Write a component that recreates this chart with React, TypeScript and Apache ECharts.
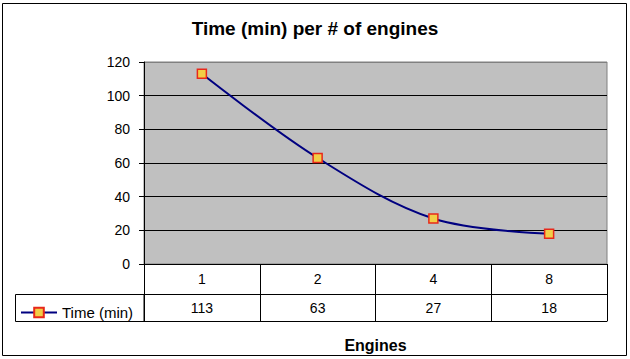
import React, { useEffect, useRef } from "react";
import * as echarts from "echarts";

const categories = ["1", "2", "4", "8"];
const timeValues = [113, 63, 27, 18];
const yMin = 0;
const yMax = 120;
const yStep = 20;
const seriesName = "Time (min)";
const chartTitle = "Time (min) per # of engines";
const xAxisTitle = "Engines";

const FONT = '"Liberation Sans", Arial, sans-serif';

export default function App() {
  const ref = useRef<HTMLDivElement>(null);

  useEffect(() => {
    if (!ref.current) return;
    const chart = echarts.init(ref.current, null, { renderer: "svg" });
    const gridLineCount = (yMax - yMin) / yStep + 1;
    const splitColors = Array.from({ length: gridLineCount }, (_, i) =>
      i === gridLineCount - 1 ? "#808080" : "#000000"
    );
    chart.setOption({
      animation: false,
      backgroundColor: "#ffffff",
      textStyle: { fontFamily: FONT, color: "#000" },
      title: {
        text: chartTitle,
        left: "center",
        top: 14,
        textStyle: { fontFamily: FONT, fontSize: 19, fontWeight: "bold", color: "#000" },
      },
      legend: {
        data: [seriesName],
        left: 20,
        top: 305,
        padding: 0,
        itemWidth: 36,
        itemHeight: 12,
        textStyle: { fontFamily: FONT, fontSize: 15, color: "#000" },
      },
      grid: {
        left: 144,
        right: 23,
        top: 62,
        bottom: 95,
        show: true,
        backgroundColor: "#C0C0C0",
        borderColor: "#808080",
        borderWidth: 1,
      },
      yAxis: {
        type: "value",
        min: yMin,
        max: yMax,
        interval: yStep,
        axisLine: { show: true, lineStyle: { color: "#000", width: 1 } },
        axisTick: { show: true, inside: false, length: 5, lineStyle: { color: "#000" } },
        axisLabel: { margin: 14, fontSize: 14, color: "#000", fontFamily: FONT },
        splitLine: { show: true, lineStyle: { color: splitColors, width: 1 } },
      },
      xAxis: [
        {
          type: "category",
          data: categories,
          position: "bottom",
          boundaryGap: true,
          axisLine: { show: true, lineStyle: { color: "#000", width: 1 } },
          axisTick: { show: true, inside: false, length: 30, alignWithLabel: false, lineStyle: { color: "#000" } },
          axisLabel: { margin: 15, fontSize: 14, color: "#000", verticalAlign: "middle", fontFamily: FONT },
          splitLine: { show: false },
        },
        {
          type: "category",
          data: timeValues.map(String),
          position: "bottom",
          offset: 30,
          boundaryGap: true,
          axisLine: { show: true, lineStyle: { color: "#000", width: 1 } },
          axisTick: { show: true, inside: false, length: 27, alignWithLabel: false, lineStyle: { color: "#000" } },
          axisLabel: { margin: 14, fontSize: 14, color: "#000", verticalAlign: "middle", fontFamily: FONT },
          splitLine: { show: false },
        },
        {
          type: "category",
          data: categories,
          position: "bottom",
          offset: 57,
          boundaryGap: true,
          axisLine: { show: true, lineStyle: { color: "#000", width: 1 } },
          axisTick: { show: false },
          axisLabel: { show: false },
          splitLine: { show: false },
          name: xAxisTitle,
          nameLocation: "middle",
          nameGap: 16,
          nameTextStyle: { fontFamily: FONT, fontSize: 16, fontWeight: "bold", color: "#000" },
        },
      ],
      series: [
        {
          name: seriesName,
          type: "line",
          xAxisIndex: 0,
          yAxisIndex: 0,
          data: timeValues,
          smooth: 0.35,
          symbol: "rect",
          symbolSize: 9,
          showSymbol: true,
          lineStyle: { color: "#000080", width: 2 },
          itemStyle: { color: "#F2CE46", borderColor: "#E8281A", borderWidth: 1.5 },
        },
      ],
      graphic: [
        {
          type: "rect",
          shape: { x: 15.5, y: 294.5, width: 128.5, height: 27 },
          style: { fill: "none", stroke: "#000", lineWidth: 1 },
          z: 10,
        },
        {
          type: "rect",
          shape: { x: 2.5, y: 3.5, width: 624, height: 352 },
          style: { fill: "none", stroke: "#000", lineWidth: 1 },
          z: 10,
        },
      ],
    });
    return () => chart.dispose();
  }, []);

  return (
    <div
      ref={ref}
      style={{ position: "absolute", left: 0, top: 0, width: 630, height: 359 }}
    />
  );
}
